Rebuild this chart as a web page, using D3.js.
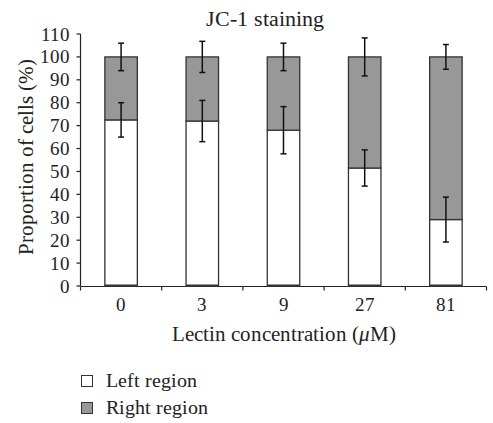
<!DOCTYPE html>
<html><head>
<script src="https://cdn.jsdelivr.net/npm/d3@7"></script>
<style>
@font-face{font-family:"ChartSerif";src:local("Liberation Serif"),local("LiberationSerif"),local("LiberationSerif-Regular");font-style:normal;}
@font-face{font-family:"ChartSerif";src:local("Liberation Serif Italic"),local("LiberationSerif-Italic");font-style:italic;}
svg text{font-family:"ChartSerif","Liberation Serif","Times New Roman",serif !important;}
</style>
</head><body style="margin:0"><svg id="c" width="493" height="423"></svg>
<script>
const categories = ["0","3","9","27","81"];
const leftRegion = [72.5, 72, 68, 51.5, 29];
const leftErr = [7.5, 9, 10.3, 7.9, 9.8];
const rightRegion = [27.5, 28, 32, 48.5, 71];
const rightErr = [6, 6.8, 6, 8.3, 5.4];
const yTicks = [0,10,20,30,40,50,60,70,80,90,100,110];
const seriesNames = ["Left region","Right region"];
const colors = ["#ffffff","#989898"];
const FONT = "Liberation Serif";

const svg = d3.select("#c");
const x = d3.scaleBand().domain(categories).range([80.5,486.5]).paddingInner(0.6).paddingOuter(0.3);
const y = d3.scaleLinear().domain([0,110]).range([286,34]);

function T(sel, size){ return sel.attr("font-family",FONT).attr("font-size",size).attr("fill","#222"); }

// y axis (ticks and labels drawn from the scale)
const ya = svg.append("g").attr("transform","translate(80.5,0)");
ya.append("line").attr("y1",y(110)).attr("y2",y(0)).attr("stroke","#222").attr("stroke-width",1.2);
ya.selectAll(".tk").data(yTicks).join("line").attr("x1",-4).attr("x2",0).attr("y1",d=>y(d)).attr("y2",d=>y(d)).attr("stroke","#222").attr("stroke-width",1.2);
T(ya.selectAll(".tl").data(yTicks).join("text"),19).attr("x",-11).attr("y",d=>y(d)+6.5).attr("text-anchor","end").text(d=>d);

// x axis with ticks at band boundaries
const xa = svg.append("g").attr("transform","translate(0,286.5)");
xa.append("line").attr("x1",80.5).attr("x2",486.5).attr("stroke","#222").attr("stroke-width",1.2);
const bounds = d3.range(categories.length+1).map(i => x.range()[0] + i*x.step());
xa.selectAll(".bt").data(bounds).join("line").attr("x1",d=>d).attr("x2",d=>d).attr("y1",0).attr("y2",4).attr("stroke","#222").attr("stroke-width",1.2);
T(xa.selectAll(".lab").data(categories).join("text"),19)
  .attr("x",d=>x(d)+x.bandwidth()/2).attr("y",24).attr("text-anchor","middle").text(d=>d);

// bars
const g = svg.append("g");
categories.forEach((c,i)=>{
  const bx = x(c), bw = x.bandwidth();
  g.append("rect").attr("x",bx).attr("width",bw).attr("y",y(leftRegion[i])).attr("height",y(0)-y(leftRegion[i]))
   .attr("fill",colors[0]).attr("stroke","#333").attr("stroke-width",1.3);
  const top = leftRegion[i]+rightRegion[i];
  g.append("rect").attr("x",bx).attr("width",bw).attr("y",y(top)).attr("height",y(leftRegion[i])-y(top))
   .attr("fill",colors[1]).attr("stroke","#333").attr("stroke-width",1.3);
});
g.selectAll(".base").data(categories).join("line")
 .attr("x1",d=>x(d)).attr("x2",d=>x(d)+x.bandwidth()).attr("y1",y(0)-0.5).attr("y2",y(0)-0.5).attr("stroke","#333").attr("stroke-width",2);

// error bars
function err(vals, errs){
  categories.forEach((c,i)=>{
    const cx = x(c)+x.bandwidth()/2;
    const lo = y(vals[i]-errs[i]), hi = y(vals[i]+errs[i]);
    g.append("line").attr("x1",cx).attr("x2",cx).attr("y1",lo).attr("y2",hi).attr("stroke","#111").attr("stroke-width",1.5);
    [lo,hi].forEach(yy=>g.append("line").attr("x1",cx-3).attr("x2",cx+3).attr("y1",yy).attr("y2",yy).attr("stroke","#111").attr("stroke-width",1.5));
  });
}
err(leftRegion,leftErr);
err(leftRegion.map((v,i)=>v+rightRegion[i]), rightErr);

// title
T(svg.append("text"),22).attr("x",265).attr("y",26).attr("text-anchor","middle").text("JC-1 staining");
// y label
T(svg.append("text"),21).attr("transform","translate(33,157) rotate(-90)").attr("text-anchor","middle").text("Proportion of cells (%)");
// x label
const xl = T(svg.append("text"),21).attr("x",284).attr("y",341).attr("text-anchor","middle");
xl.append("tspan").text("Lectin concentration (");
xl.append("tspan").attr("font-style","italic").text("\u03bc");
xl.append("tspan").text("M)");

// legend
const lg = svg.append("g");
seriesNames.forEach((n,i)=>{
  const yy = 387 + i*27;
  lg.append("rect").attr("x",81.5).attr("y",yy-11.5).attr("width",11).attr("height",11).attr("fill",colors[i]).attr("stroke","#333").attr("stroke-width",1);
  T(lg.append("text"),20).attr("x",106).attr("y",yy).text(n);
});
</script></body></html>
